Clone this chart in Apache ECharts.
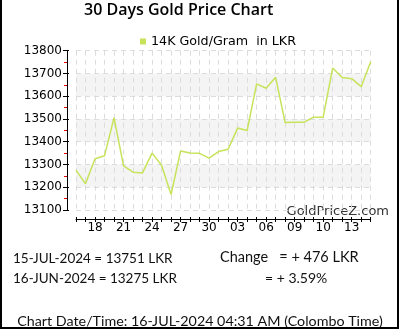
<!DOCTYPE html>
<html><head><meta charset="utf-8">
<script src="https://cdn.jsdelivr.net/npm/echarts@6/dist/echarts.min.js"></script>
<style>html,body{margin:0;padding:0;background:#fff}#c{width:400px;height:330px}</style>
</head><body><div id="c"></div>
<script>
const categories = ['16','17','18','19','20','21','22','23','24','25','26','27','28','29','30',
  '01','02','03','04','05','06','07','08','09','10','10','10','11','12','13','14','15'];
const tickLabels = ['18','21','24','27','30','03','06','09','10','13'];
const goldValues = [13275,13215,13325,13338,13506,13294,13266,13263,13350,13297,13168,13359,13350,13349,13328,13357,
  13367,13460,13449,13654,13635,13683,13484,13486,13486,13508,13508,13724,13682,13677,13642,13751];
const seriesName = '14K Gold/Gram  in LKR';
const titleText = '30 Days Gold Price Chart';
const summaryLines = ['15-JUL-2024 = 13751 LKR','16-JUN-2024 = 13275 LKR'];
const changeLines = ['Change   = + 476 LKR','= + 3.59%'];
const footerText = 'Chart Date/Time: 16-JUL-2024 04:31 AM (Colombo Time)';
const watermark = 'GoldPriceZ.com';
const yMin = 13100, yMax = 13800, yStep = 100;

const labelIdx = [];
categories.forEach((c,i)=>{ if(i%3===2) labelIdx.push(i); });
const shownLabel = {};
labelIdx.forEach((i,k)=>{ shownLabel[i] = tickLabels[k]; });

const chart = echarts.init(document.getElementById('c'), null, {renderer:'canvas'});
const lineColor = '#c6e35a';
const F = '"DejaVu Sans"';
chart.setOption({
  animation:false,
  title:{text:titleText,left:84,top:2,padding:0,textStyle:{fontFamily:'"Open Sans"',fontWeight:600,fontSize:16,color:'#000'}},
  legend:{data:[seriesName],left:140,top:35,padding:0,icon:'rect',itemWidth:6,itemHeight:6,
    textStyle:{fontFamily:F,fontSize:12.7,color:'#000'}},
  grid:{left:76,right:29.3,top:50.7,bottom:120},
  xAxis:[{type:'category',data:categories,boundaryGap:false,offset:9,
    axisLine:{lineStyle:{color:'#000',width:1}},
    axisTick:{show:true,interval:0,length:3,lineStyle:{color:'#000'}},
    axisLabel:{interval:(i)=>i%3===2,formatter:(v,i)=>shownLabel[i]||'',fontFamily:F,fontSize:12,color:'#000',margin:3},
    splitLine:{show:true,interval:0,lineStyle:{color:'#dcdcdc',type:[5,4]}}},
   {type:'category',data:categories,boundaryGap:false,offset:9,position:'bottom',
    axisLine:{show:false},axisTick:{show:true,inside:true,interval:0,length:2,lineStyle:{color:'#000'}},
    axisLabel:{show:false},splitLine:{show:false}}],
  yAxis:[{type:'value',min:yMin,max:yMax,interval:yStep,offset:9,
    axisLine:{show:true,lineStyle:{color:'#000'}},
    axisTick:{show:true,length:4,lineStyle:{color:'#000'}},
    minorTick:{show:true,splitNumber:2,length:3,lineStyle:{color:'#e00000'}},
    axisLabel:{fontFamily:F,fontSize:12,color:'#000',margin:5,formatter:(v)=>String(v)},
    splitLine:{show:true,lineStyle:{color:'#dcdcdc',type:[5,4]}},
    splitArea:{show:true,areaStyle:{color:['rgba(255,255,255,0)','#f4f4f4']}}},
   {type:'value',min:yMin,max:yMax,interval:yStep,offset:9,position:'left',
    axisLine:{show:false},axisTick:{show:true,inside:true,length:2,lineStyle:{color:'#000'}},
    axisLabel:{show:false},splitLine:{show:false}}],
  series:[{name:seriesName,type:'line',data:goldValues,showSymbol:false,symbol:'none',
    lineStyle:{color:lineColor,width:1.5},itemStyle:{color:lineColor}}],
  graphic:[
    {type:'text',right:11,top:205,style:{text:watermark,font:'13px "DejaVu Sans"',fill:'#333'}},
    {type:'text',x:13,y:259,style:{text:summaryLines[0],font:'13.5px Lato',fill:'#111',textVerticalAlign:'middle'}},
    {type:'text',x:13,y:279,style:{text:summaryLines[1],font:'13.5px Lato',fill:'#111',textVerticalAlign:'middle'}},
    {type:'text',x:220,y:257,style:{text:changeLines[0],font:'14.5px Lato',fill:'#111',textVerticalAlign:'middle'}},
    {type:'text',x:265,y:278,style:{text:changeLines[1],font:'14px Lato',fill:'#111',textVerticalAlign:'middle'}},
    {type:'text',x:200,y:321,style:{text:footerText,font:'14.3px Lato',fill:'#111',textAlign:'center',textVerticalAlign:'middle'}},
    {type:'line',shape:{x1:1,y1:0,x2:1,y2:329},style:{stroke:'#000',lineWidth:2}},
    {type:'line',shape:{x1:398,y1:0,x2:398,y2:329},style:{stroke:'#000',lineWidth:2}},
    {type:'line',shape:{x1:0,y1:328,x2:399,y2:328},style:{stroke:'#000',lineWidth:2}}
  ]
});
</script></body></html>
